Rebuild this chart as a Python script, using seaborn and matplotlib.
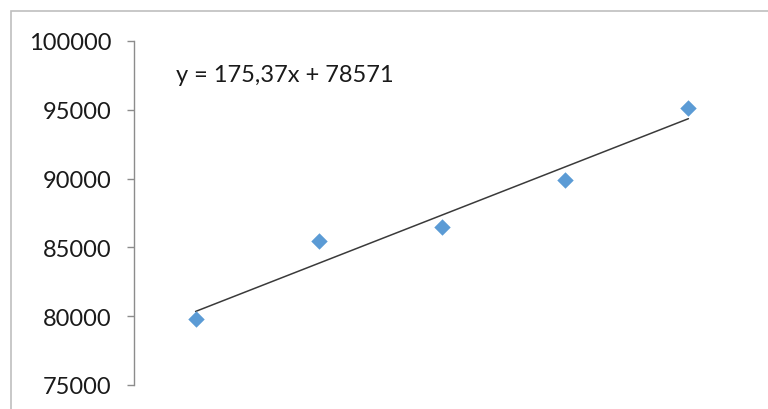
import numpy as np
import pandas as pd
import seaborn as sns
import matplotlib.pyplot as plt
from matplotlib.patches import Rectangle

sns.set_style("white")
plt.rcParams['font.family'] = ['Lato', 'DejaVu Sans']

# данные
x_vals = [10, 30, 50, 70, 90]
y_vals = [79800, 85480, 86470, 89900, 95100]
y_ticks = [75000, 80000, 85000, 90000, 95000, 100000]
equation = 'y = 175,37x + 78571'

df = pd.DataFrame({'x': x_vals, 'y': y_vals})

fig = plt.figure(figsize=(7.68, 4.10), dpi=100)
# рамка области диаграммы (как в Excel)
fig.patches.append(Rectangle((11 / 768, -0.1), 1.1, 1 - 12 / 410 + 0.1,
                             transform=fig.transFigure, fill=False,
                             edgecolor='#bfbfbf', linewidth=1.2))

ax = fig.add_axes([134 / 768, 1 - 386 / 410, (750 - 134) / 768, (386 - 42) / 410])

sns.regplot(data=df, x='x', y='y', ax=ax, scatter=False, ci=None, truncate=True,
            line_kws={'color': '#3a3a3a', 'linewidth': 1.1})
sns.scatterplot(data=df, x='x', y='y', ax=ax, marker='D', s=70,
                color='#5b9bd5', edgecolor='#5b9bd5', linewidth=0, zorder=3)

ax.set_xlim(0, 100)
ax.set_ylim(75000, 100000)
ax.set_yticks(y_ticks)
ax.set_yticklabels([str(t) for t in y_ticks])
ax.set_xticks([])
ax.set_xlabel('')
ax.set_ylabel('')
for side in ['top', 'right', 'bottom']:
    ax.spines[side].set_visible(False)
ax.spines['left'].set_color('#8c8c8c')
ax.spines['left'].set_linewidth(1.0)
ax.tick_params(axis='y', direction='out', length=5, width=1.0, color='#8c8c8c',
               labelsize=17, labelcolor='#1a1a1a', pad=11, left=True)

ax.text(176 / 768, 1 - 76 / 410, equation, transform=fig.transFigure,
        fontsize=17, color='#1a1a1a', ha='left', va='center')

fig.savefig('out.png', dpi=100)
